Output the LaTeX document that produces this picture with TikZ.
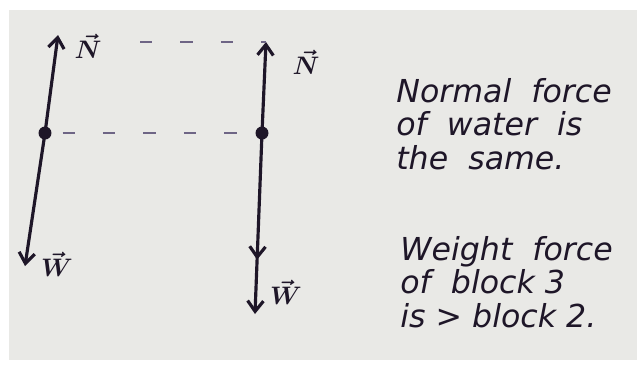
\documentclass[tikz,border=0pt]{standalone}
\usepackage{fontspec}
\newfontfamily\handfont{DejaVu Sans}
\usetikzlibrary{arrows.meta,decorations.markings}
\definecolor{ink}{HTML}{1E1628}
\definecolor{paper}{HTML}{E9E9E6}
\definecolor{faint}{HTML}{6E6585}
\tikzset{
	force/.style = {ink, line width = 1.8pt, -{Straight Barb[length=6pt,width=9pt,line width=1.8pt]}},
	guide/.style = {faint, line width = 1.6pt, dash pattern = on 7pt off 16pt},
	note/.style = {ink, anchor = north west, align = left, inner sep = 0pt,
		font = \handfont\itshape\fontsize{18}{19}\selectfont},
	lbl/.style = {ink, font = \Large\boldmath}
}
\begin{document}
\begin{tikzpicture} [x = 0.02cm, y = -0.02cm]
	\useasboundingbox [fill = white] (0,0) rectangle (637,370);
	\fill [paper] (9,10) rectangle (637,360);
	% block 2
	\coordinate (dotA) at (45,133);
	\coordinate (NA) at (58,35);
	\coordinate (WA) at (25,266);
	\draw [force] (dotA) -- (NA);
	\draw [force] (dotA) -- (WA);
	\fill [ink] (dotA) circle (6.5);
	\node [lbl] (nA) at (88,46) {$\vec{N}$};
	\node [lbl] (wA) at (57,264) {$\vec{W}$};
	% block 3
	\coordinate (dotB) at (262,133);
	\coordinate (NB) at (266,42);
	\coordinate (WB) at (255,314);
	\draw [force] (dotB) -- (NB);
	\draw [force, postaction = {decorate}, decoration = {markings,
		mark = at position 0.7 with {\arrow{Straight Barb[length=6pt,width=9pt,line width=1.8pt]}}}]
		(dotB) -- (WB);
	\fill [ink] (dotB) circle (6.5);
	\node [lbl] (nB) at (306,62) {$\vec{N}$};
	\node [lbl] (wB) at (286,292) {$\vec{W}$};
	% dashed guides
	\coordinate (topA) at (140,42);
	\draw [guide] (topA) -- (NB);
	\draw [guide] ([xshift = 10]dotA) -- ([xshift = -10]dotB);
	% notes
	\node [note] (same) at (396,78) {Normal \ force\\of \ water \ is\\the \ same.};
	\node [note] (more) at (400,236) {Weight \ force\\of \ block 3\\is > block 2.};
\end{tikzpicture}
\end{document}
